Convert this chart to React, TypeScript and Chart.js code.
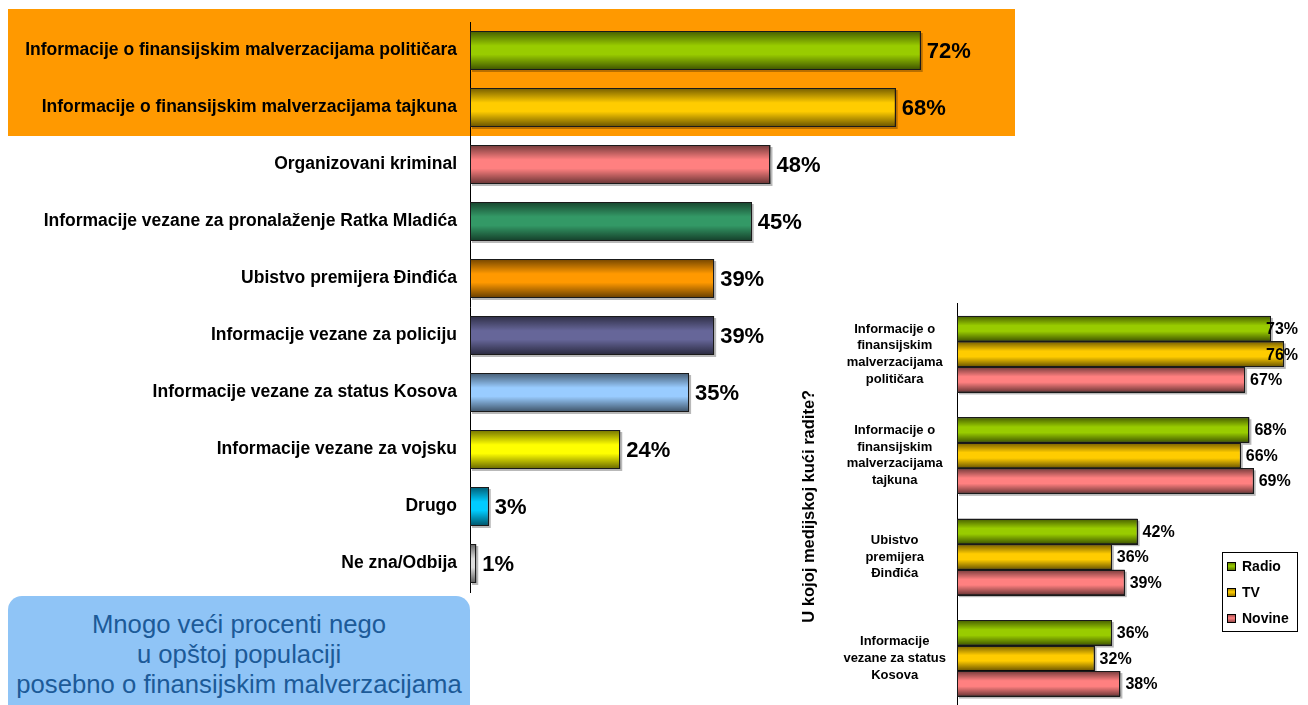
import React, { useEffect, useRef } from "react";
import { Chart, registerables } from "chart.js";

Chart.register(...registerables);

const FONT = "'Liberation Sans', Arial, Helvetica, sans-serif";

// ---------- Main chart data ----------
const topicLabels = [
  "Informacije o finansijskim malverzacijama političara",
  "Informacije o finansijskim malverzacijama tajkuna",
  "Organizovani kriminal",
  "Informacije vezane za pronalaženje Ratka Mladića",
  "Ubistvo premijera Đinđića",
  "Informacije vezane za policiju",
  "Informacije vezane za status Kosova",
  "Informacije vezane za vojsku",
  "Drugo",
  "Ne zna/Odbija",
];
const topicValues = [72, 68, 48, 45, 39, 39, 35, 24, 3, 1];
const topicColors = [
  "#99CC00",
  "#FFCC00",
  "#FF8080",
  "#339966",
  "#FF9900",
  "#666699",
  "#99CCFF",
  "#FFFF00",
  "#00CCFF",
  "#DDDDDD",
];
const highlightedCount = 2;

// ---------- Media chart data ----------
const mediaCategories = [
  ["Informacije o", "finansijskim", "malverzacijama", "političara"],
  ["Informacije o", "finansijskim", "malverzacijama", "tajkuna"],
  ["Ubistvo", "premijera", "Đinđića"],
  ["Informacije", "vezane za status", "Kosova"],
];
const mediaSeries = ["Radio", "TV", "Novine"];
const radioValues = [73, 68, 42, 36];
const tvValues = [76, 66, 36, 32];
const novineValues = [67, 69, 39, 38];
const mediaColors = ["#99CC00", "#FFCC00", "#FF8080"];
const mediaAxisTitle = "U kojoj medijskoj kući radite?";

const calloutLines = [
  "Mnogo veći procenti nego",
  "u opštoj populaciji",
  "posebno o finansijskim malverzacijama",
];

// ---------- Plugins ----------
const barStylePlugin = {
  id: "barStyle",
  beforeDatasetsDraw(chart: any) {
    const ctx = chart.ctx;
    ctx.save();
    ctx.fillStyle = "rgba(0,0,0,0.28)";
    chart.data.datasets.forEach((_ds: any, i: number) => {
      const meta = chart.getDatasetMeta(i);
      meta.data.forEach((el: any) => {
        const { x, y, base, height } = el.getProps(["x", "y", "base", "height"], true);
        const left = Math.min(x, base);
        const w = Math.abs(x - base);
        ctx.fillRect(left + 2, y - height / 2 + 2, w, height);
      });
    });
    ctx.restore();
  },
  afterDatasetsDraw(chart: any) {
    const ctx = chart.ctx;
    ctx.save();
    chart.data.datasets.forEach((_ds: any, i: number) => {
      const meta = chart.getDatasetMeta(i);
      meta.data.forEach((el: any) => {
        const { x, y, base, height } = el.getProps(["x", "y", "base", "height"], true);
        const left = Math.min(x, base);
        const w = Math.abs(x - base);
        const top = y - height / 2;
        const g = ctx.createLinearGradient(0, top, 0, top + height);
        g.addColorStop(0, "rgba(0,0,0,0.55)");
        g.addColorStop(0.38, "rgba(0,0,0,0)");
        g.addColorStop(0.6, "rgba(0,0,0,0)");
        g.addColorStop(1, "rgba(0,0,0,0.6)");
        ctx.fillStyle = g;
        ctx.fillRect(left, top, w, height);
        ctx.strokeStyle = "#1a1a1a";
        ctx.lineWidth = 1;
        ctx.strokeRect(Math.round(left) + 0.5, Math.round(top) + 0.5, Math.max(0, Math.round(w) - 1), Math.round(height) - 1);
      });
    });
    ctx.restore();
  },
};

const valueLabelPlugin = {
  id: "valueLabels",
  afterDatasetsDraw(chart: any, _args: any, opts: any) {
    const ctx = chart.ctx;
    ctx.save();
    ctx.font = opts.font;
    ctx.fillStyle = "#000";
    ctx.textBaseline = "middle";
    ctx.textAlign = "left";
    chart.data.datasets.forEach((ds: any, i: number) => {
      const meta = chart.getDatasetMeta(i);
      meta.data.forEach((el: any, j: number) => {
        const text = ds.data[j] + "%";
        const w = ctx.measureText(text).width;
        let x = el.x + opts.offset;
        if (opts.clamp != null) x = Math.min(x, chart.chartArea.right - w - opts.clamp);
        ctx.fillText(text, x, el.y + (opts.dy || 0));
      });
    });
    ctx.restore();
  },
};

const highlightPlugin = {
  id: "highlight",
  beforeDraw(chart: any, _args: any, opts: any) {
    const ctx = chart.ctx;
    const y = chart.scales.y;
    const step = Math.abs(y.getPixelForValue(1) - y.getPixelForValue(0));
    const top = y.getPixelForValue(0) - step / 2 - opts.extendTop;
    const bottom = y.getPixelForValue(opts.count - 1) + step / 2;
    ctx.save();
    ctx.fillStyle = opts.color;
    ctx.fillRect(opts.left, top, opts.right - opts.left, bottom - top);
    ctx.restore();
  },
};

const boxLegendPlugin = {
  id: "boxLegend",
  afterDraw(chart: any, _args: any, opts: any) {
    const ctx = chart.ctx;
    const { left, top, width, height, firstRow, rowGap, boxX, boxSize, textX } = opts;
    ctx.save();
    ctx.fillStyle = "#fff";
    ctx.fillRect(left, top, width, height);
    ctx.strokeStyle = "#000";
    ctx.lineWidth = 1;
    ctx.strokeRect(left + 0.5, top + 0.5, width, height);
    ctx.font = opts.font;
    ctx.textBaseline = "middle";
    ctx.textAlign = "left";
    chart.data.datasets.forEach((ds: any, i: number) => {
      const cy = top + firstRow + i * rowGap;
      const bx = left + boxX;
      const by = Math.round(cy - boxSize / 2);
      ctx.fillStyle = ds.backgroundColor;
      ctx.fillRect(bx, by, boxSize, boxSize);
      const g = ctx.createLinearGradient(0, by, 0, by + boxSize);
      g.addColorStop(0, "rgba(0,0,0,0.45)");
      g.addColorStop(0.45, "rgba(0,0,0,0)");
      g.addColorStop(1, "rgba(0,0,0,0.5)");
      ctx.fillStyle = g;
      ctx.fillRect(bx, by, boxSize, boxSize);
      ctx.strokeStyle = "#000";
      ctx.strokeRect(bx + 0.5, by + 0.5, boxSize - 1, boxSize - 1);
      ctx.fillStyle = "#000";
      ctx.fillText(ds.label, left + textX, cy + 1);
    });
    ctx.restore();
  },
};

function fixedWidth(w: number) {
  return (s: any) => {
    s.width = w;
    s.paddingTop = 0;
    s.paddingBottom = 0;
  };
}

function MainChart() {
  const ref = useRef<HTMLCanvasElement>(null);
  useEffect(() => {
    const chart = new Chart(ref.current as HTMLCanvasElement, {
      type: "bar",
      data: {
        labels: topicLabels,
        datasets: [
          {
            data: topicValues,
            backgroundColor: topicColors,
            borderColor: "#1a1a1a",
            borderWidth: 1,
            barPercentage: 0.684,
            categoryPercentage: 1,
          },
        ],
      },
      options: {
        indexAxis: "y",
        animation: false,
        responsive: false,
        layout: { padding: { top: 22, bottom: 8, right: 4, left: 0 } },
        plugins: {
          legend: { display: false },
          tooltip: { enabled: false },
          highlight: { count: highlightedCount, color: "#FF9900", left: 8, right: 1015, extendTop: 13 },
          valueLabels: { font: "bold 22px " + FONT, offset: 6, dy: 1 },
        } as any,
        scales: {
          x: { display: false, min: 0, max: 100 },
          y: {
            afterFit: fixedWidth(470),
            grid: { display: false, drawTicks: false },
            border: { display: true, color: "#000", width: 1 },
            ticks: {
              autoSkip: false,
              padding: 13,
              color: "#000",
              font: { family: FONT, size: 17.5, weight: "bold" },
            },
          },
        },
      } as any,
      plugins: [highlightPlugin, barStylePlugin, valueLabelPlugin],
    });
    return () => chart.destroy();
  }, []);
  return (
    <canvas
      ref={ref}
      width={1100}
      height={600}
      style={{ position: "absolute", left: 0, top: 0, width: 1100, height: 600 }}
    />
  );
}

function MediaChart() {
  const ref = useRef<HTMLCanvasElement>(null);
  useEffect(() => {
    const seriesValues = [radioValues, tvValues, novineValues];
    const chart = new Chart(ref.current as HTMLCanvasElement, {
      type: "bar",
      data: {
        labels: mediaCategories,
        datasets: mediaSeries.map((name, i) => ({
          label: name,
          data: seriesValues[i],
          backgroundColor: mediaColors[i],
          borderColor: "#1a1a1a",
          borderWidth: 1,
          barPercentage: 1,
          categoryPercentage: 0.755,
        })),
      },
      options: {
        indexAxis: "y",
        animation: false,
        responsive: false,
        layout: { padding: { top: 8.5, bottom: 6, right: 7, left: 0 } },
        plugins: {
          legend: { display: false },
          tooltip: { enabled: false },
          valueLabels: { font: "bold 16px " + FONT, offset: 5, clamp: 3, dy: 1 },
          boxLegend: {
            left: 427,
            top: 257,
            width: 75,
            height: 79,
            firstRow: 14,
            rowGap: 26,
            boxX: 5,
            boxSize: 9,
            textX: 20,
            font: "bold 14px " + FONT,
          },
        } as any,
        scales: {
          x: { display: false, min: 0, max: 80 },
          y: {
            afterFit: fixedWidth(162),
            grid: { display: false, drawTicks: false },
            border: { display: true, color: "#000", width: 1 },
            title: {
              display: true,
              text: mediaAxisTitle,
              color: "#000",
              font: { family: FONT, size: 16.5, weight: "bold" },
              padding: { top: 5, bottom: 0 },
            },
            ticks: {
              autoSkip: false,
              crossAlign: "center",
              padding: 11,
              color: "#000",
              font: { family: FONT, size: 13, weight: "bold", lineHeight: 1.28 },
            },
          },
        },
      } as any,
      plugins: [barStylePlugin, valueLabelPlugin, boxLegendPlugin],
    });
    return () => chart.destroy();
  }, []);
  return (
    <canvas
      ref={ref}
      width={513}
      height={420}
      style={{ position: "absolute", left: 795, top: 295, width: 513, height: 420 }}
    />
  );
}

export default function App() {
  return (
    <div
      style={{
        position: "fixed",
        left: 0,
        top: 0,
        width: 1308,
        height: 705,
        overflow: "hidden",
        background: "#fff",
      }}
    >
      <MainChart />
      <div
        style={{
          position: "absolute",
          left: 8,
          top: 596,
          width: 462,
          height: 130,
          borderRadius: 14,
          background: "#8FC4F6",
          color: "#1C5A98",
          fontFamily: FONT,
          fontSize: 25.7,
          lineHeight: "30px",
          textAlign: "center",
          paddingTop: 13,
          boxSizing: "border-box",
        }}
      >
        {calloutLines.map((l, i) => (
          <div key={i}>{l}</div>
        ))}
      </div>
      <MediaChart />
    </div>
  );
}
